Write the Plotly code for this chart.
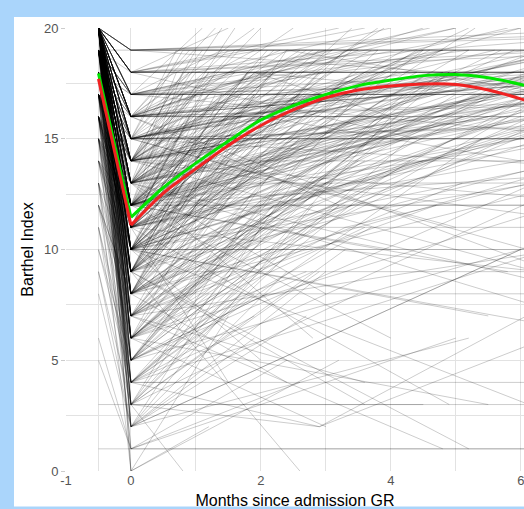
import plotly.graph_objects as go

# ---------------- data (read / estimated from the reference) ----------------
X_TICKS = [-1, 0, 2, 4, 6]
X_MINOR = [-0.5, 1, 3, 5]
Y_TICKS = [0, 5, 10, 15, 20]

PRE_X = -0.5   # pre-admission measurement
ADM_X = 0.0    # admission measurement

PRE = [
    20,20,19,20,18,17,20,19,20,16,
    20,18,20,19,15,20,17,20,19,14,
    20,18,20,16,20,19,13,20,18,20,
    17,20,19,20,15,20,18,20,12,20,
    19,20,16,20,17,20,14,20,18,20,
    19,20,11,20,18,20,16,20,19,20,
    17,20,15,20,18,20,13,20,19,20,
    18,20,16,20,19,20,14,20,17,20,
    20,18,20,15,20,19,12,20,17,20,
    19,20,16,20,18,20,10,20,19,20,
    17,20,15,9,20,14,18,8,16,20,
    6,13,19,11,20,5,17,12,20,3,
    20,19,20,18,20,17,20,19,20,16,
    20,18,20,19,20,17,20,15,20,19,
    20,18,20,17,20,19,20,16,20,18,
    20,19,20,18,20,17,20,19,20,16,
    20,18,20,19,20,17,20,15,20,19,
    20,20,19,18,17,20,16,15,19,14,
    12,20,19,18,20,13,1,17,20,18,
    20,19,18,20,16,20,17,19,20,15,
    20,19,20,18,20,17,20,19,20,18,
    20,19,20,17,20,18,20,16,20,19,
    20,19,18,20,17,20,15,20,19,16,
    20,18,20,19,17,20,16,20,18,20,
    20,20,19,20,18,20,19,20,17,20,
    20,19,20,18,20,20,17,19,20,18,
    20,19,20,18,20,17,20,19,20,16,
    20,18,20,19,20,17,20,19,20,18,
    20,19,20,18,20,20,17,19,20,18,
    20,19,18,20,17,20,16,19,20,15,
    20,19,18,20,17,20,16,19,20,18,
    20,18,19,17,20,16,20,15,19,18,
    20,20,20,19,20,20,19,20,18,20,
    20,19,20,18,20,17,20,19,20,18,
    19,20,18,20,17,20,19,16,20,18,
    20,20,19,20,18,20,17,20,19,20,
    14,12,15,13,11,16,10,14,9,13,
    20,19,20,18,20,20,17,19,20,18,
    20,20,19,18,20,17,20,19,20,16,
    20,19,18,20,17,20,19,18,20,16,
    18,20,15,19,17,20,14,18,16,20,
    20,20,19,20,18,20,19,20,17,20,
    20,19,18,20,17,20,19,16,20,18,
]
ADM = [
    12,9,14,16,8,11,18,6,13,10,
    15,12,7,17,5,11,14,10,13,9,
    19,4,14,12,8,11,6,16,15,12,
    9,13,10,5,11,17,7,14,3,11,
    16,10,8,12,13,15,10,6,14,18,
    9,13,4,16,11,7,14,12,15,9,
    12,10,7,14,16,11,9,5,12,17,
    10,13,6,15,8,12,12,9,15,11,
    14,3,16,10,13,7,8,12,11,18,
    14,10,13,6,12,15,5,11,16,8,
    2,4,1,3,0,5,3,2,4,6,
    1,0,5,2,3,1,4,7,2,3,
    17,13,14,9,12,10,16,11,15,9,
    13,14,10,12,18,8,11,12,14,9,
    16,13,7,15,12,14,10,11,13,6,
    12,10,14,16,8,13,11,15,9,12,
    17,11,13,7,18,14,10,9,16,12,
    19,18,17,16,15,14,13,12,10,9,
    8,19,18,17,16,4,1,6,15,12,
    9,11,5,13,7,12,3,8,14,6,
    11,8,10,9,12,7,14,10,6,11,
    8,13,9,12,7,10,15,8,12,14,
    13,15,10,16,12,11,13,9,14,10,
    5,4,3,6,2,7,5,4,8,6,
    14,16,12,10,13,15,17,11,12,9,
    13,11,15,14,8,12,16,10,17,13,
    11,13,9,15,12,10,14,16,8,11,
    15,12,13,10,16,14,12,9,18,11,
    12,14,10,11,13,15,9,16,11,8,
    7,9,6,8,10,5,7,11,6,8,
    12,10,9,14,8,11,7,13,15,6,
    3,5,2,4,6,1,0,4,3,2,
    19,18,17,19,18,16,17,19,17,15,
    10,12,14,9,11,13,8,15,12,10,
    13,10,11,12,9,14,8,10,13,12,
    16,11,9,13,15,7,12,14,10,17,
    8,6,9,7,5,10,4,11,2,3,
    12,9,15,11,13,10,14,8,16,12,
    15,13,11,14,10,12,16,9,14,11,
    7,10,8,6,11,9,5,12,8,10,
    4,6,5,3,7,2,6,5,4,8,
    18,17,16,19,15,18,17,16,14,19,
    16,12,14,18,10,13,15,11,17,9,
]
FU_T = [
    2.1,3.4,1.2,5.8,2.6,0.9,7.5,4.2,1.6,3.1,
    9.0,2.4,1.8,6.5,3.7,0.7,4.8,2.9,8.2,1.4,
    10.0,2.2,3.3,5.1,1.1,4.4,2.7,1.9,7.0,3.8,
    0.6,2.5,6.1,3.0,1.3,4.6,2.0,9.5,1.7,3.6,
    2.3,5.3,1.5,0.8,3.9,6.8,2.8,4.1,1.0,3.2,
    2.6,11.0,1.9,2.1,4.9,3.5,1.2,7.8,0.9,2.4,
    5.6,1.6,3.4,2.0,8.8,4.3,1.3,2.7,6.3,1.4,
    3.0,0.5,2.2,5.0,1.7,3.1,9.8,4.0,2.5,1.1,
    6.6,2.9,3.7,1.8,5.2,2.3,3.3,1.5,7.2,2.0,
    4.7,0.9,2.6,3.9,1.3,8.0,2.1,5.9,1.6,2.8,
    1.9,3.2,2.4,4.5,1.5,6.0,0.8,3.0,2.9,5.5,
    2.6,1.2,7.0,2.0,4.0,9.0,1.0,3.6,2.4,8.0,
    1.1,2.2,0.6,1.4,2.0,0.8,3.0,1.3,2.5,1.7,
    1.0,2.7,1.9,0.7,1.5,2.3,3.4,1.2,2.1,1.6,
    0.9,1.8,2.6,1.1,4.2,1.4,2.2,0.6,3.1,1.5,
    12.0,10.5,11.5,13.0,9.5,12.5,14.0,11.0,10.0,13.5,
    12.0,9.0,15.0,11.0,10.0,14.0,12.5,9.5,13.0,11.5,
    12.0,9.0,11.0,10.0,12.0,8.0,11.0,10.0,12.0,9.0,
    11.0,7.0,13.0,10.0,12.0,10.0,11.0,2.1,9.0,10.5,
    1.2,2.0,1.5,0.8,2.8,1.9,2.9,1.0,2.4,3.3,
    0.5,0.7,1.0,0.9,1.2,1.4,0.8,1.7,1.1,2.0,
    2.5,3.5,4.5,5.5,6.5,3.3,4.1,5.0,2.6,7.5,
    3.0,5.0,2.0,6.5,4.0,1.5,8.5,2.6,10.0,7.0,
    2.3,3.8,1.7,4.9,2.8,6.2,1.3,5.4,8.5,2.0,
    2.8,4.5,3.6,5.2,1.9,6.0,3.0,4.4,2.2,7.0,
    3.9,2.4,5.6,1.6,4.8,2.9,6.7,3.4,5.0,2.0,
    8.5,10.0,7.5,11.5,9.0,12.0,8.0,13.0,10.5,9.5,
    7.0,9.5,11.0,8.0,14.0,10.0,6.5,12.0,9.0,8.5,
    0.8,1.0,1.3,1.1,0.7,1.5,1.2,0.9,1.8,1.4,
    1.6,2.7,3.9,1.2,4.6,2.2,3.1,5.7,1.9,2.4,
    4.0,5.5,3.6,7.5,2.4,6.3,4.8,9.0,11.0,3.0,
    3.5,2.0,6.0,4.3,1.4,5.0,3.2,7.5,2.5,9.0,
    10.0,11.0,9.0,12.0,8.5,10.5,13.0,7.5,11.5,12.5,
    1.5,2.0,1.0,2.5,1.8,1.2,3.0,0.8,2.2,1.6,
    2.6,3.3,0.9,4.1,1.7,2.3,5.1,1.1,3.7,6.2,
    1.9,0.6,2.9,1.4,3.5,4.2,0.8,2.6,5.3,3.8,
    2.0,3.6,1.4,4.7,2.8,6.0,1.9,3.1,5.2,2.5,
    4.6,6.2,8.8,5.4,7.3,11.2,9.6,6.8,12.8,5.9,
    0.7,1.2,0.9,1.6,1.0,0.8,1.3,1.1,0.6,1.9,
    3.4,2.1,4.9,6.4,1.5,3.8,2.6,7.9,5.7,2.9,
    2.2,4.3,1.8,3.3,5.1,2.7,6.6,1.2,8.3,3.6,
    3.6,5.2,4.4,7.9,2.9,6.9,9.2,3.1,5.8,4.8,
    3.2,5.8,7.6,4.4,9.4,2.8,6.1,4.9,11.0,5.2,
]
FU_V = [
    19,18,18,20,15,16,18,17,20,14,
    19,17,12,17,11,15,19,18,20,13,
    20,10,17,16,14,19,9,19,15,20,
    12,16,18,13,15,20,14,18,8,17,
    19,20,13,15,18,19,10,16,17,20,
    15,19,7,18,18,14,16,17,18,19,
    17,14,12,20,19,16,13,11,19,19,
    16,14,12,18,16,18,14,17,18,17,
    19,9,16,15,20,13,12,16,18,19,
    17,13,17,15,18,20,8,19,18,16,
    6,12,5,3,7,10,0,9,2,3,
    4,2,14,11,16,1,4,4,9,3,
    20,19,16,17,18,14,19,16,20,15,
    17,19,17,14,20,16,20,17,18,15,
    18,18,17,19,19,20,18,13,19,14,
    18,19,20,17,15,19,18,16,20,18,
    19,17,20,12,18,20,16,18,19,20,
    19,18,17,16,15,14,13,12,10,9,
    8,19,18,17,16,4,1,11,15,12,
    15,16,10,17,13,18,2,12,19,11,
    13,11,16,13,15,12,17,17,10,16,
    18,18,19,18,16,19,17,17,17,18,
    8,11,5,9,6,4,7,0,6,2,
    14,13,11,18,12,17,9,15,19,13,
    19,20,18,19,17,20,19,18,18,19,
    20,17,19,18,18,19,18,19,20,17,
    20,19,18,20,19,17,20,19,17,18,
    19,20,20,17,20,19,18,18,20,16,
    18,19,17,16,18,19,15,19,18,15,
    15,17,16,14,18,12,13,19,14,12,
    10,7,3,12,4,9,1,5,13,2,
    8,12,10,15,9,6,5,11,13,14,
    19,18,17,20,19,17,18,19,18,16,
    16,17,18,15,18,17,14,19,18,16,
    16,15,14,18,13,17,16,12,19,18,
    20,15,18,17,19,16,16,19,17,19,
    14,11,15,12,9,16,8,13,6,10,
    19,18,20,17,18,20,19,16,19,18,
    19,18,16,19,15,17,20,15,17,17,
    17,16,18,17,15,19,14,18,16,17,
    11,14,9,10,13,7,12,8,15,14,
    20,19,18,20,17,19,20,19,16,18,
    12,9,11,15,5,6,10,3,14,1,
]
# patients with a second follow-up visit
FU2_ID = [36, 72, 108, 187, 190, 191, 192, 193, 194, 195, 196, 197, 198, 199,
          330, 331, 332, 333, 334, 335, 336, 337, 338, 339]
FU2_T = [5.5, 4.5, 6.4, 10.0, 4.5, 6.0, 3.5, 5.0, 7.0, 4.0, 8.0, 3.8, 6.5, 9.0,
         5.0, 6.5, 4.0, 7.0, 5.5, 4.8, 8.0, 3.5, 6.0, 9.0]
FU2_V = [16, 14, 6, 11, 19, 14, 17, 20, 18, 16, 10, 18, 17, 15,
         19, 18, 20, 18, 17, 19, 18, 19, 20, 19]

# fitted mean curves
CURVE_X = [0, 0.5, 1, 1.5, 2, 2.5, 3, 3.5, 4, 4.5, 5, 5.5, 6, 6.2]
GREEN_PRE = 17.95
GREEN_Y = [11.45, 12.8, 13.9, 14.9, 15.85, 16.5, 17.0, 17.4, 17.65, 17.85, 17.9, 17.75, 17.45, 17.3]
RED_PRE = 17.7
RED_Y = [11.1, 12.55, 13.65, 14.7, 15.6, 16.3, 16.85, 17.2, 17.38, 17.47, 17.45, 17.2, 16.8, 16.6]

# ---------------- figure ----------------
fig = go.Figure()

extra = {i: (t, v) for i, t, v in zip(FU2_ID, FU2_T, FU2_V)}
for i in range(len(PRE)):
    xs = [PRE_X, ADM_X, FU_T[i]]
    ys = [PRE[i], ADM[i], FU_V[i]]
    if i in extra:
        xs.append(extra[i][0])
        ys.append(extra[i][1])
    fig.add_trace(go.Scatter(x=xs, y=ys, mode="lines",
                             line=dict(color="rgba(0,0,0,0.2)", width=1),
                             hoverinfo="skip"))

for pre, ys, col in [(GREEN_PRE, GREEN_Y, "#00E600"), (RED_PRE, RED_Y, "#F02222")]:
    fig.add_trace(go.Scatter(x=[PRE_X, CURVE_X[0]], y=[pre, ys[0]], mode="lines",
                             line=dict(color=col, width=3), hoverinfo="skip"))
    fig.add_trace(go.Scatter(x=CURVE_X, y=ys, mode="lines",
                             line=dict(color=col, width=3, shape="spline", smoothing=0.8),
                             hoverinfo="skip"))

W, H = 524, 509
L, R, T, B = 66, 0, 28, 38
pw, ph = W - L - R, H - T - B

fig.add_shape(type="rect", xref="paper", yref="paper",
              x0=(14 - L) / pw, x1=1.05,
              y0=-(506.5 - (H - B)) / ph, y1=((H - B) - 17) / ph,
              fillcolor="white", line=dict(width=0), layer="below")

grid = "#e2e2e2"
fig.update_layout(
    width=W, height=H,
    margin=dict(l=L, r=R, t=T, b=B, pad=0),
    paper_bgcolor="#AAD5FB", plot_bgcolor="white",
    showlegend=False, hovermode=False,
    font=dict(family="Liberation Sans, Arial, sans-serif", size=13, color="#555555"),
    xaxis=dict(range=[-1, 6.05], tickvals=X_TICKS, ticktext=[str(v) for v in X_TICKS],
               showgrid=True, gridcolor=grid, gridwidth=1, zeroline=False, showline=False,
               ticks="", automargin=False, ticklabeloverflow="allow",
               minor=dict(tickvals=X_MINOR, showgrid=True, gridcolor=grid, gridwidth=1),
               title=dict(text="Months since admission GR", font=dict(size=16, color="black"),
                          standoff=8)),
    yaxis=dict(range=[0, 20], tickvals=Y_TICKS, ticktext=[str(v) for v in Y_TICKS],
               showgrid=True, gridcolor=grid, gridwidth=1, zeroline=False, showline=False,
               ticks="outside", ticklen=4, tickcolor="#cccccc", automargin=False,
               minor=dict(dtick=2.5, tick0=0, showgrid=True, gridcolor=grid, gridwidth=1),
               title=dict(text="Barthel Index", font=dict(size=16, color="black"), standoff=6)),
)

# remove the browser's default 8px page margin so the figure fills the window
fig.write_html("out.html", config={"displayModeBar": False},
               post_script="document.body.style.margin='0';document.body.style.overflow='hidden';")
